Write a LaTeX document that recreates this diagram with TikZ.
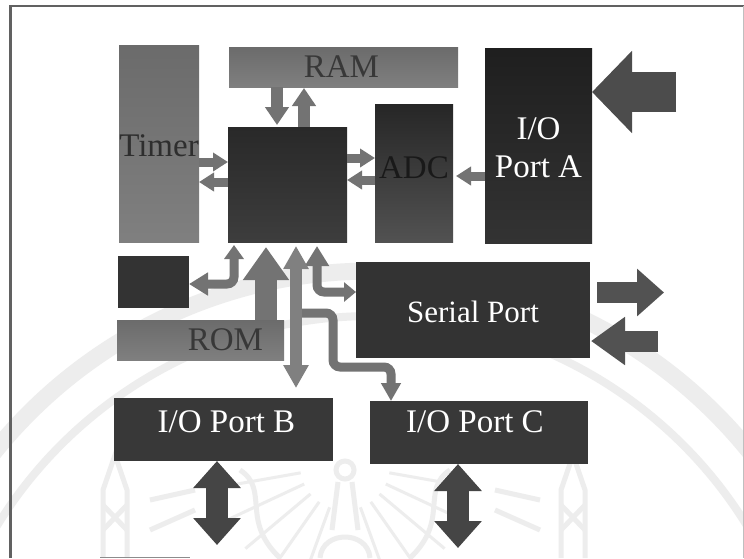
\documentclass[tikz,border=0pt]{standalone}
\usepackage{fontspec}
\setmainfont{Liberation Serif}
\usetikzlibrary{arrows.meta}
\definecolor{arrowgray}{gray}{0.45}
\definecolor{darkarrow}{gray}{0.27}
\definecolor{wm}{gray}{0.93}
\tikzset{
  box/.style={draw=none,inner sep=0pt,outer sep=0pt,rectangle},
  midbox/.style={box,top color=black!58,bottom color=black!50},
  darkbox/.style={box,top color=black!84,bottom color=black!76},
  lbl/.style={font=\fontsize{33}{38}\selectfont,text=white,inner sep=0pt,align=center},
  dlbl/.style={font=\fontsize{33}{38}\selectfont,text=black!78,inner sep=0pt,align=center},
  thin arrow/.style={draw=arrowgray,line width=9pt,rounded corners=7pt},
  small arrow/.style={thin arrow,-{Triangle[length=15pt,width=18pt]}},
  ram arrow/.style={draw=arrowgray,line width=12pt,-{Triangle[length=18pt,width=23pt]}},
  wmline/.style={draw=wm,line width=5pt},
}
\begin{document}
\begin{tikzpicture}[x=1pt,y=-1pt]
\useasboundingbox (0,0) rectangle (744,558);
\fill[white] (0,0) rectangle (744,558);
% watermark and page frame
\begin{scope}
\clip (0,0) rectangle (744,558);
\draw[wm,line width=17pt] (372,756) circle [radius=485pt];
\draw[wm,line width=8pt] (372,756) circle [radius=440pt];
\foreach \a in {-80,-65,-50,-35,-20,20,35,50,65,80}
  \draw[wm,line width=3pt] (345,465) ++(\a-90:45pt) -- ++(\a-90:85pt);
\draw[wmline] (345,470) circle [radius=9pt];
\draw[wmline] (338,482) -- (332,530) (352,482) -- (358,530);
\draw[wmline] (320,558) .. controls (322,530) and (368,530) .. (370,558);
\foreach \x in {115,573}{
  \draw[wmline] (\x-12,558) -- (\x-12,490) -- (\x,455) -- (\x+12,490) -- (\x+12,558);
  \draw[wmline] (\x-12,505) -- (\x+12,530) (\x+12,505) -- (\x-12,530);
}
\draw[wmline] (240,470) .. controls (270,490) and (240,520) .. (280,558);
\draw[wmline] (450,470) .. controls (420,490) and (450,520) .. (410,558);
\draw[wmline] (150,500) -- (195,490) (150,530) -- (195,510);
\draw[wmline] (540,500) -- (495,490) (540,530) -- (495,510);
\end{scope}
\draw[black!62,line width=2.5pt] (10.5,558) -- (10.5,6) -- (744,6);
\draw[black!25,line width=1pt] (743,6) -- (743,558);
\draw[black!45,line width=1pt] (100,557) -- (190,557);

% blocks
\node[midbox,minimum width=80pt,minimum height=197pt,label={[dlbl,yshift=-2pt,text=black!82]center:Timer}] (timer) at (159,143.5) {};
\node[midbox,minimum width=229pt,minimum height=40pt,label={[dlbl,xshift=-2pt]center:RAM}] (ram) at (343.5,67) {};
\node[darkbox,minimum width=119pt,minimum height=115pt] (cpu) at (287.5,184.5) {};
\node[box,top color=black!85,bottom color=black!68,minimum width=78pt,minimum height=138pt,label={[dlbl,yshift=5pt,text=black!90]center:ADC}] (adc) at (414,173) {};
\node[box,top color=black!88,bottom color=black!80,minimum width=107pt,minimum height=195pt,label={[lbl,yshift=-2pt]center:I/O\\Port A}] (porta) at (538.5,145.5) {};
\node[box,fill=black!80,minimum width=71pt,minimum height=52pt] (aux) at (153.5,282) {};
\node[midbox,minimum width=167pt,minimum height=40pt,label={[dlbl,xshift=25pt]center:ROM}] (rom) at (200.5,340) {};
\node[box,fill=black!80,minimum width=234pt,minimum height=96pt,label={[lbl,yshift=-2pt,font=\fontsize{31}{36}\selectfont]center:Serial Port}] (serial) at (473,310) {};
\node[box,fill=black!78,minimum width=219pt,minimum height=63pt,label={[lbl,xshift=3pt,yshift=8pt]center:I/O Port B}] (portb) at (223.5,429.5) {};
\node[box,fill=black!78,minimum width=218pt,minimum height=63pt,label={[lbl,xshift=-4pt,yshift=11pt]center:I/O Port C}] (portc) at (479,432.5) {};

% off-page ends of the external arrows
\coordinate (extA) at (676,92);
\coordinate (serOut) at (664,292.5);
\coordinate (serIn) at (658,341);
\coordinate (bEnd) at (217,545);
\coordinate (cEnd) at (458,548);
\coordinate (midEnd) at (296,388);
\coordinate (cpuMid) at (296,246);
\coordinate (branch) at (296,313);

% RAM <-> CPU
\draw[ram arrow] ([xshift=-66.5pt]ram.south) -- ([xshift=-10.5pt,yshift=2pt]cpu.north);
\draw[ram arrow] ([xshift=16.5pt]cpu.north) -- ([xshift=-39.5pt,yshift=-1pt]ram.south);
% Timer <-> CPU
\draw[small arrow] ([yshift=-18.5pt]timer.east) -- ([yshift=22.5pt]cpu.west);
\draw[small arrow] ([yshift=2.5pt]cpu.west) -- ([yshift=-38.5pt]timer.east);
% CPU <-> ADC
\draw[small arrow] ([yshift=26.5pt]cpu.east) -- ([yshift=15pt]adc.west);
\draw[small arrow] ([yshift=-7pt]adc.west) -- ([yshift=4.5pt]cpu.east);
% Port A -> ADC
\draw[small arrow] ([yshift=-30.5pt]porta.west) -- ([xshift=3pt,yshift=-3pt]adc.east);

% big external arrows
\draw[draw=black!70,line width=40pt,-{Triangle[length=40pt,width=80pt]}] (extA) -- (porta.east |- extA);
\draw[draw=black!68,line width=21pt,-{Triangle[length=27pt,width=46pt]}] ([xshift=7pt,yshift=17.5pt]serial.east) -- (serOut);
\draw[draw=black!68,line width=21pt,-{Triangle[length=34pt,width=46pt]}] (serIn) -- ([xshift=1pt,yshift=-31pt]serial.east);
\draw[draw=darkarrow,line width=22pt,{Triangle[length=27pt,width=46pt]}-{Triangle[length=27pt,width=46pt]}] ([xshift=-6.5pt]portb.south) -- (bEnd);
\draw[draw=darkarrow,line width=22pt,{Triangle[length=27pt,width=46pt]}-{Triangle[length=27pt,width=46pt]}] ([xshift=-21pt]portc.south) -- (cEnd);

% ROM -> CPU
\draw[draw=black!55,line width=22pt,-{Triangle[length=33pt,width=44pt]}] ([xshift=65.5pt]rom.north) -- ([xshift=-21.5pt,yshift=-5pt]cpu.south);
% aux <-> CPU
\draw[thin arrow,{Triangle[length=19pt,width=22pt]}-{Triangle[length=14pt,width=19pt]}] ([yshift=-2pt]aux.east) -- (234,284) -- ([xshift=-53.5pt,yshift=-3pt]cpu.south);
% serial <-> CPU
\draw[thin arrow,{Triangle[length=20pt,width=23pt]}-{Triangle[length=12pt,width=19pt]}] ([xshift=29.5pt,yshift=-4pt]cpu.south) -- (317,292) -- ([yshift=18pt]serial.west);
% branch to Port C
\draw[thin arrow,-{Triangle[length=18pt,width=19pt]}] (branch) -- (333,313) -- (333,367) -- (391,367) -- ([xshift=-88pt]portc.north);
% centre bus
\draw[draw=black!50,line width=12pt,{Triangle[length=23pt,width=24pt]}-{Triangle[length=23pt,width=24pt]}] (cpuMid) -- (midEnd);
\end{tikzpicture}
\end{document}
